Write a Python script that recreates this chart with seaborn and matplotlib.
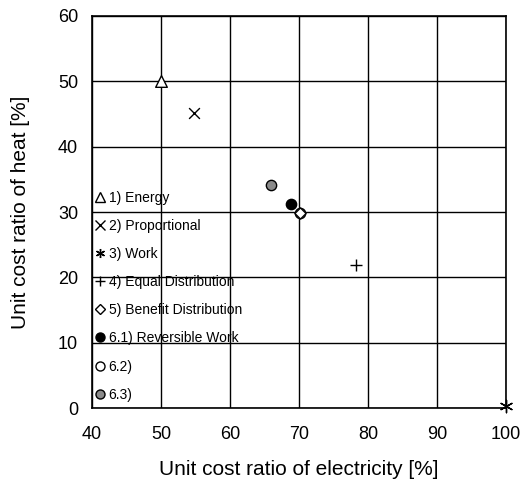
import matplotlib
matplotlib.use("Agg")
import matplotlib.pyplot as plt
import seaborn as sns
import pandas as pd
from matplotlib.lines import Line2D

# allocation methods and their unit cost ratios (electricity, heat) in %
methods = ["1) Energy", "2) Proportional", "3) Work", "4) Equal Distribution",
           "5) Benefit Distribution", "6.1) Reversible Work", "6.2)", "6.3)"]
elec = [50.0, 54.8, 100.0, 78.2, 70.2, 68.8, 70.2, 66.0]
heat = [50.0, 45.2, 0.3, 21.9, 29.8, 31.3, 29.8, 34.1]

markers = ["^", "x", (6, 2, 0), "+", "D", "o", "o", "o"]
faces = ["white", "black", "black", "black", "white", "black", "white", "#8a8a8a"]
sizes = [70, 60, 80, 70, 32, 55, 55, 55]
# diamond drawn over the open circle it shares a point with
zorders = [5, 5, 5, 5, 7, 5, 6, 5]

df = pd.DataFrame({"method": methods, "elec": elec, "heat": heat})

sns.set_style("white")
plt.rcParams["font.family"] = ["Liberation Sans", "DejaVu Sans"]
plt.rcParams["text.color"] = "black"
plt.rcParams["axes.labelcolor"] = "black"
plt.rcParams["xtick.color"] = "black"
plt.rcParams["ytick.color"] = "black"

fig = plt.figure(figsize=(5.27, 4.79), dpi=100)
ax = fig.add_axes([0.1746, 0.148, 0.7856, 0.8186])

for i, row in df.iterrows():
    sns.scatterplot(data=df.iloc[[i]], x="elec", y="heat", ax=ax,
                    marker=markers[i], s=sizes[i], color=faces[i],
                    edgecolor="black", linewidth=1.0, zorder=zorders[i], clip_on=False)

ax.set_xlim(40, 100)
ax.set_ylim(0, 60)
ax.set_xticks(range(40, 101, 10))
ax.set_yticks(range(0, 61, 10))
ax.grid(True, color="black", linewidth=1.0)
ax.set_axisbelow(True)
for sp in ax.spines.values():
    sp.set_color("black")
    sp.set_linewidth(1.2)
ax.tick_params(axis="x", length=0, pad=13, labelsize=13)
ax.tick_params(axis="y", length=0, pad=10, labelsize=13)

ax.set_xlabel("Unit cost ratio of electricity [%]", fontsize=15, labelpad=12)
ax.set_ylabel("Unit cost ratio of heat [%]", fontsize=15, labelpad=20)

handles = []
for i in range(len(methods)):
    handles.append(Line2D([], [], linestyle="none", marker=markers[i],
                          markersize=6.5 if markers[i] != "D" else 5,
                          markerfacecolor=faces[i], markeredgecolor="black",
                          markeredgewidth=1.0))
leg = ax.legend(handles, methods, loc="upper left", bbox_to_anchor=(0.0, 0.562),
                frameon=False, borderpad=0, borderaxespad=0.2, handlelength=0.8,
                handletextpad=0.2, labelspacing=1.02,
                prop={"family": ["Liberation Sans Narrow", "Liberation Sans"], "size": 10})

fig.savefig("out.png", dpi=100)
